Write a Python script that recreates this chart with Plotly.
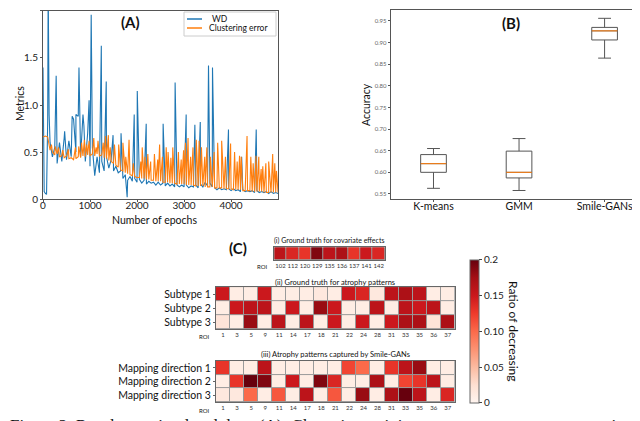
import plotly.graph_objects as go

# ---------------- panel A: training curves ----------------
epochs = list(range(0, 5001, 50))

wd_base = [
    1.40, 0.06, 0.85, 0.60, 0.45, 0.55, 0.38, 0.60, 0.40, 0.65,
    0.42, 0.62, 0.45, 0.85, 0.50, 0.88, 0.45, 0.90, 0.40, 0.70,
    0.35, 0.55, 0.25, 0.45, 0.28, 0.40, 0.30, 0.45, 0.33, 0.42,
    0.30, 0.35, 0.28, 0.30, 0.22, 0.26, 0.20, 0.24, 0.19, 0.22,
    0.18, 0.21, 0.17, 0.20, 0.16, 0.19, 0.17, 0.18, 0.15, 0.18,
    0.15, 0.17, 0.14, 0.17, 0.14, 0.16, 0.13, 0.15, 0.13, 0.15,
    0.13, 0.15, 0.12, 0.14, 0.13, 0.15, 0.12, 0.16, 0.13, 0.18,
    0.14, 0.17, 0.13, 0.12, 0.10, 0.12, 0.10, 0.11, 0.10, 0.11,
    0.09, 0.11, 0.09, 0.10, 0.08, 0.10, 0.08, 0.09, 0.08, 0.09,
    0.07, 0.09, 0.07, 0.08, 0.07, 0.08, 0.06, 0.08, 0.06, 0.07,
    0.06,
]

wd_spike_epochs = [10, 25, 75, 110, 120, 130, 280, 460, 620, 700, 765, 870, 980,
                   1025, 1240, 1345, 1490, 1660, 1790, 1940, 2005, 2195, 2555,
                   2810, 3045, 3230, 3345, 3520, 3605, 3945, 4225, 4535]
wd_spike_values = [0.55, 0.08, 0.05, 2.30, 1.55, 0.90, 1.31, 0.72, 0.88, 0.90,
                   1.40, 0.78, 1.05, 1.96, 1.63, 1.25, 0.68, 0.70, 0.02, 0.90,
                   1.15, 0.80, 0.80, 1.24, 0.90, 0.79, 0.82, 1.42, 1.40, 0.74,
                   0.45, 0.74]

ce_base = [
    0.66, 0.67, 0.66, 0.52, 0.50, 0.47, 0.48, 0.45, 0.46, 0.44,
    0.46, 0.43, 0.44, 0.42, 0.43, 0.45, 0.44, 0.46, 0.45, 0.47,
    0.46, 0.48, 0.46, 0.48, 0.46, 0.47, 0.44, 0.43, 0.41, 0.40,
    0.38, 0.36, 0.34, 0.31, 0.30, 0.28, 0.27, 0.26, 0.25, 0.24,
    0.23, 0.23, 0.22, 0.22, 0.21, 0.21, 0.20, 0.20, 0.19, 0.19,
    0.19, 0.18, 0.18, 0.18, 0.17, 0.17, 0.17, 0.16, 0.16, 0.16,
    0.16, 0.15, 0.15, 0.15, 0.15, 0.14, 0.14, 0.14, 0.14, 0.13,
    0.13, 0.13, 0.13, 0.12, 0.12, 0.12, 0.12, 0.11, 0.11, 0.11,
    0.11, 0.10, 0.10, 0.10, 0.10, 0.09, 0.09, 0.09, 0.09, 0.08,
    0.08, 0.08, 0.08, 0.08, 0.07, 0.07, 0.07, 0.07, 0.07, 0.07,
    0.07,
]

ce_spike_epochs = [180, 260, 330, 420, 540, 690, 760, 820, 880, 930, 980, 1080,
                   1130, 1170, 1280, 1330, 1390, 1430, 1520, 1610, 1700, 1760,
                   1830, 1920, 2080, 2110, 2170, 2230, 2290, 2370, 2440, 2480,
                   2540, 2620, 2660, 2720, 2760, 2880, 2940, 2990, 3030, 3085,
                   3140, 3190, 3260, 3320, 3370, 3440, 3485, 3560, 3640, 3715,
                   3800, 3880, 3990, 4075, 4130, 4180, 4215, 4340, 4420, 4470,
                   4530, 4590, 4640, 4675, 4740, 4800, 4820, 4885, 4930, 4965]
ce_spike_values = [0.58, 0.56, 0.55, 0.52, 0.53, 0.55, 0.56, 0.60, 0.63, 0.58,
                   0.62, 0.65, 0.55, 0.62, 0.60, 0.67, 0.68, 0.55, 0.58, 0.58,
                   0.60, 0.45, 0.63, 0.38, 0.40, 0.55, 0.45, 0.48, 0.40, 0.48,
                   0.42, 0.58, 0.45, 0.55, 0.50, 0.44, 0.55, 0.50, 0.42, 0.52,
                   0.60, 0.65, 0.45, 0.55, 0.63, 0.62, 0.55, 0.45, 0.55, 0.45,
                   0.50, 0.60, 0.62, 0.45, 0.59, 0.50, 0.40, 0.46, 0.45, 0.67,
                   0.45, 0.38, 0.46, 0.45, 0.32, 0.35, 0.38, 0.40, 0.28, 0.48,
                   0.38, 0.30]

# ---------------- panel B: accuracy boxes ----------------
methods = ["K-means", "GMM", "Smile-GANs"]
acc_low = [0.563, 0.558, 0.864]
acc_q1 = [0.600, 0.587, 0.906]
acc_med = [0.620, 0.600, 0.927]
acc_q3 = [0.641, 0.649, 0.935]
acc_high = [0.655, 0.678, 0.956]

# ---------------- panel C: heatmaps ----------------
cov_rois = ["102", "112", "120", "129", "135", "136", "137", "141", "142"]
cov_vals = [0.16, 0.14, 0.13, 0.19, 0.16, 0.17, 0.13, 0.15, 0.14]

rois = ["1", "3", "5", "9", "11", "14", "17", "18", "21", "22", "24", "28",
        "31", "33", "35", "36", "37"]
subtypes = ["Subtype 1", "Subtype 2", "Subtype 3"]
gt_vals = [
    [0.15, 0.01, 0.01, 0.15, 0.01, 0.01, 0.01, 0.015, 0.01, 0.15, 0.14, 0.015, 0.16, 0.17, 0.16, 0.01, 0.01],
    [0.01, 0.15, 0.16, 0.16, 0.01, 0.15, 0.01, 0.18, 0.15, 0.01, 0.01, 0.16, 0.01, 0.16, 0.15, 0.16, 0.01],
    [0.02, 0.01, 0.18, 0.01, 0.16, 0.01, 0.16, 0.01, 0.15, 0.01, 0.15, 0.01, 0.15, 0.17, 0.17, 0.02, 0.17],
]
directions = ["Mapping direction 1", "Mapping direction 2", "Mapping direction 3"]
mapped_vals = [
    [0.13, 0.01, 0.01, 0.16, 0.01, 0.01, 0.01, 0.01, 0.01, 0.12, 0.10, 0.01, 0.13, 0.16, 0.18, 0.01, 0.01],
    [0.01, 0.13, 0.20, 0.19, 0.01, 0.15, 0.01, 0.19, 0.14, 0.01, 0.01, 0.17, 0.01, 0.12, 0.13, 0.16, 0.01],
    [0.015, 0.015, 0.10, 0.01, 0.11, 0.01, 0.16, 0.01, 0.11, 0.01, 0.18, 0.01, 0.17, 0.22, 0.16, 0.01, 0.14],
]

REDS = [
    [0.0, "rgb(255,245,240)"], [0.125, "rgb(254,224,210)"], [0.25, "rgb(252,187,161)"],
    [0.375, "rgb(252,146,114)"], [0.5, "rgb(251,106,74)"], [0.625, "rgb(239,59,44)"],
    [0.75, "rgb(203,24,29)"], [0.875, "rgb(165,15,21)"], [1.0, "rgb(103,0,13)"],
]
FONT = "Lato, 'Open Sans', sans-serif"
FRAME = "#555555"
BLUE, ORANGE = "#1f77b4", "#ff7f0e"


def merge_series(base_x, base_y, spike_x, spike_y):
    pts = sorted(list(zip(base_x, base_y)) + list(zip(spike_x, spike_y)))
    return [p[0] for p in pts], [p[1] for p in pts]


def px_x(v):
    return v / 640


def px_y(v):
    return 1 - v / 421


wd_x, wd_y = merge_series(epochs, wd_base, wd_spike_epochs, wd_spike_values)
ce_x, ce_y = merge_series(epochs, ce_base, ce_spike_epochs, ce_spike_values)

fig = go.Figure()

fig.add_trace(go.Scatter(x=wd_x, y=wd_y, mode="lines", name="WD",
                         line=dict(color=BLUE, width=1.1),
                         xaxis="x", yaxis="y"))
fig.add_trace(go.Scatter(x=ce_x, y=ce_y, mode="lines", name="Clustering error",
                         line=dict(color=ORANGE, width=1.1),
                         xaxis="x", yaxis="y"))

fig.add_trace(go.Box(
    x=methods, q1=acc_q1, median=acc_med, q3=acc_q3,
    lowerfence=acc_low, upperfence=acc_high,
    fillcolor="rgba(255,255,255,0)", line=dict(color="#555555", width=1),
    width=0.3, whiskerwidth=0.5,
    xaxis="x2", yaxis="y2", hoverinfo="skip",
))

fig.add_trace(go.Heatmap(
    x=cov_rois, y=["cov"], z=[cov_vals], zmin=0, zmax=0.2,
    colorscale=REDS, showscale=False, xgap=1, ygap=1,
    xaxis="x3", yaxis="y3",
))
fig.add_trace(go.Heatmap(
    x=rois, y=subtypes, z=gt_vals, zmin=0, zmax=0.2,
    colorscale=REDS, showscale=False, xgap=1, ygap=1,
    xaxis="x4", yaxis="y4",
))
fig.add_trace(go.Heatmap(
    x=rois, y=directions, z=mapped_vals, zmin=0, zmax=0.2,
    colorscale=REDS, xgap=1, ygap=1,
    xaxis="x5", yaxis="y5",
    colorbar=dict(
        x=0.722, xanchor="left", xpad=0, y=0.232, yanchor="middle", ypad=0,
        len=0.34, lenmode="fraction", thickness=9,
        outlinecolor="#666666", outlinewidth=1,
        tickvals=[0, 0.05, 0.10, 0.15, 0.2],
        ticktext=["0", "0.05", "0.10", "0.15", "0.2"],
        ticks="outside", ticklen=3, tickcolor="#444",
        tickfont=dict(size=10, color="#222", family=FONT),
    ),
))

# median lines in matplotlib orange
for i, m in enumerate(acc_med):
    fig.add_shape(type="line", xref="x2", yref="y2",
                  x0=i - 0.15, x1=i + 0.15, y0=m, y1=m,
                  line=dict(color=ORANGE, width=1))

# grey grid behind the heatmap cells
for ax in ["3", "4", "5"]:
    fig.add_shape(type="rect", xref=f"x{ax} domain", yref=f"y{ax} domain",
                  x0=0, x1=1, y0=0, y1=1, layer="below",
                  fillcolor="#9a9a9a", line=dict(width=0))

# compact matplotlib-like legend for panel A
fig.add_shape(type="rect", xref="paper", yref="paper",
              x0=px_x(176), x1=px_x(268), y0=px_y(28), y1=px_y(4),
              fillcolor="white", line=dict(color="#cccccc", width=1))
for name, color, row_y, text_x in [("WD", BLUE, 11, 212), ("Clustering error", ORANGE, 20, 230)]:
    fig.add_shape(type="line", xref="paper", yref="paper",
                  x0=px_x(179), x1=px_x(194), y0=px_y(row_y), y1=px_y(row_y),
                  line=dict(color=color, width=1.5))
    fig.add_annotation(text=name, x=px_x(text_x), y=px_y(row_y),
                       xref="paper", yref="paper", showarrow=False,
                       xanchor="center", yanchor="middle",
                       font=dict(size=8.5, color="#111", family=FONT))

frame = dict(showline=True, mirror=True, linecolor=FRAME, linewidth=1,
             showgrid=False, zeroline=False, ticks="outside", ticklen=2,
             tickcolor=FRAME)

heat_x = dict(type="category", showline=True, mirror=True, linecolor="#666",
              linewidth=1, showgrid=False, zeroline=False, ticks="",
              tickangle=0, tickfont=dict(size=6, color="#333", family=FONT))
heat_y = dict(type="category", autorange="reversed", showline=True, mirror=True,
              linecolor="#666", linewidth=1, showgrid=False, zeroline=False,
              ticks="outside", ticklen=2, tickcolor="#666",
              tickfont=dict(size=10.5, color="#111", family=FONT))

fig.update_layout(
    width=640, height=421,
    margin=dict(l=0, r=0, t=0, b=0, autoexpand=False),
    paper_bgcolor="white", plot_bgcolor="white",
    font=dict(family=FONT, color="#222"),
    showlegend=False,
    xaxis=dict(domain=[0.0547, 0.422], range=[0, 5000], anchor="y",
               tickvals=[0, 1000, 2000, 3000, 4000], ticklabelstandoff=-5,
               tickfont=dict(size=10), **frame),
    yaxis=dict(domain=[0.546, 0.993], range=[0, 2.0], anchor="x",
               tickvals=[0, 0.5, 1.0, 1.5, 2.0],
               ticktext=["0", "0.5", "1.0", "1.5", "2.00"],
               tickfont=dict(size=10), **frame),
    xaxis2=dict(domain=[0.598, 0.999], range=[-0.5, 2.5], anchor="y2",
                ticklabelstandoff=-5,
                tickfont=dict(size=10.5, color="#111"), **frame),
    yaxis2=dict(domain=[0.546, 0.995], range=[0.538, 0.975], anchor="x2",
                tickvals=[0.55, 0.60, 0.65, 0.70, 0.75, 0.80, 0.85, 0.90, 0.95],
                tickformat=".2f", tickfont=dict(size=6, color="#666"), **frame),
    xaxis3=dict(domain=[0.416, 0.589], anchor="y3", **heat_x),
    yaxis3=dict(domain=[0.401, 0.432], anchor="x3", showticklabels=False,
                **{k: v for k, v in heat_y.items() if k not in ("tickfont", "ticks")}),
    xaxis4=dict(domain=[0.325, 0.698], anchor="y4", **heat_x),
    yaxis4=dict(domain=[0.2375, 0.337], anchor="x4", tickvals=subtypes, **heat_y),
    xaxis5=dict(domain=[0.325, 0.698], anchor="y5", **heat_x),
    yaxis5=dict(domain=[0.064, 0.1615], anchor="x5", tickvals=directions, **heat_y),
)
fig.update_xaxes(automargin=False)
fig.update_yaxes(automargin=False)

notes = [
    # (text, x px, y px, size, bold, angle)
    ("(A)", 122, 14, 15, True, 0),
    ("(B)", 503, 15, 15, True, 0),
    ("(C)", 230, 240, 15, True, 0),
    ("Number of epochs", 146, 212, 10.5, False, 0),
    ("Metrics", 12, 96, 10.5, False, -90),
    ("Accuracy", 358, 97, 10.5, False, -90),
    ("(i) Ground truth for covariate effects", 321, 233, 7, False, 0),
    ("(ii) Ground truth for atrophy patterns", 327, 274, 7.5, False, 0),
    ("(iii) Atrophy patterns captured by Smile-GANs", 327, 346, 7.5, False, 0),
    ("ROI", 254, 258, 6, False, 0),
    ("ROI", 196, 328, 6, False, 0),
    ("ROI", 196, 402, 6, False, 0),
    ("Ratio of decreasing", 506, 323, 12, False, 90),
]
for text, px, py, size, bold, angle in notes:
    fig.add_annotation(
        text=f"<b>{text}</b>" if bold else text,
        x=px_x(px), y=px_y(py), xref="paper", yref="paper",
        xanchor="center", yanchor="middle", showarrow=False,
        textangle=angle, font=dict(size=size, color="#111", family=FONT),
    )

# figure caption, cut off at the bottom edge of the image
fig.add_annotation(
    text="Figure 2: Results on simulated data. (A): Clustering training error versus convergence criteria with Wasserstein distance",
    x=0, y=0, xref="paper", yref="paper", xanchor="left", yanchor="top",
    yshift=15, showarrow=False,
    font=dict(size=17, color="#111", family="'Liberation Serif', serif"),
)

fig.write_html("out.html")
